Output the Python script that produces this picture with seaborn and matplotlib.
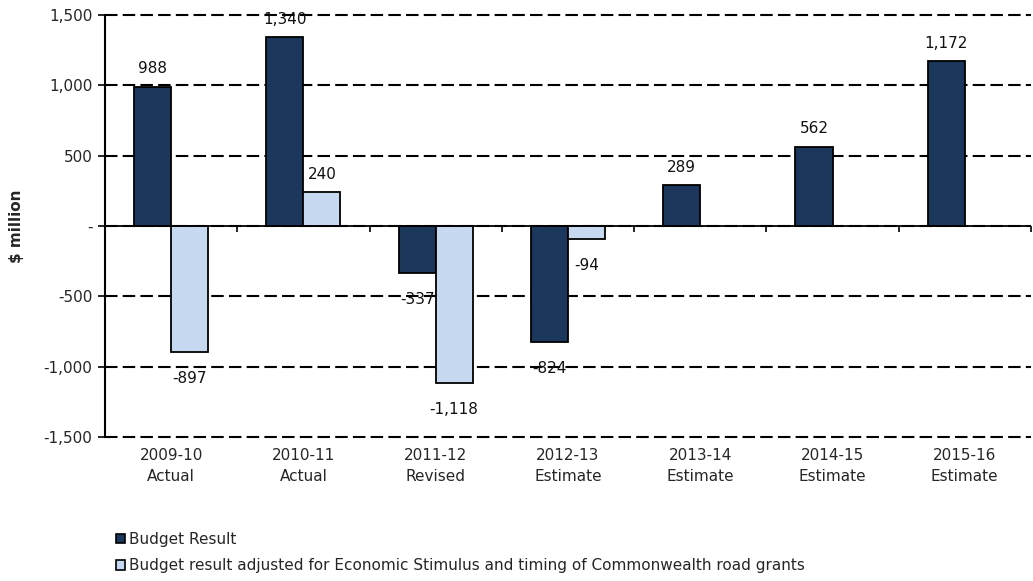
import numpy as np
import pandas as pd
import seaborn as sns
import matplotlib.pyplot as plt
from matplotlib.ticker import FuncFormatter
from matplotlib.transforms import blended_transform_factory

# Data
years = ["2009-10\nActual", "2010-11\nActual", "2011-12\nRevised", "2012-13\nEstimate",
         "2013-14\nEstimate", "2014-15\nEstimate", "2015-16\nEstimate"]
budget_result = [988, 1340, -337, -824, 289, 562, 1172]
adjusted_result = [-897, 240, -1118, -94, np.nan, np.nan, np.nan]
series_names = ["Budget Result",
                "Budget result adjusted for Economic Stimulus and timing of Commonwealth road grants"]
yticks = [-1500, -1000, -500, 0, 500, 1000, 1500]

dark = "#1B375C"
light = "#C6D9F0"

df = pd.DataFrame({
    "year": years * 2,
    "series": [series_names[0]] * len(years) + [series_names[1]] * len(years),
    "value": budget_result + adjusted_result,
})

sns.set_style("white")
plt.rcParams["font.family"] = ["DejaVu Sans"]

fig = plt.figure(figsize=(10.33, 5.81), dpi=100)
ax = fig.add_axes([0.1016, 0.2478, 0.8964, 0.7264])

sns.barplot(data=df, x="year", y="value", hue="series", order=years,
            hue_order=series_names, palette=[dark, light], saturation=1, width=0.56,
            edgecolor="black", linewidth=1.3, errorbar=None, ax=ax, legend=False)

# value labels
for cont in ax.containers:
    for bar in cont:
        h = bar.get_height()
        if np.isnan(h):
            continue
        x = bar.get_x() + bar.get_width() / 2
        off = 13 if h >= 0 else -19
        ax.annotate(f"{h:,.0f}", (x, h), xytext=(0, off), textcoords="offset points",
                    ha="center", va="center", fontsize=11, color="#111111")

ax.set_ylim(-1500, 1500)
ax.set_xlim(-0.5, len(years) - 0.5)
ax.set_yticks(yticks)
ax.yaxis.set_major_formatter(FuncFormatter(lambda v, p: "-" if v == 0 else f"{v:,.0f}"))
ax.tick_params(axis="y", length=5, width=1.2, color="black", labelsize=11, pad=4, left=True)
ax.tick_params(axis="x", length=0, labelsize=11, pad=8)
for lab in ax.get_xticklabels():
    lab.set_linespacing(1.45)

ax.yaxis.grid(True, color="black", linestyle=(0, (6, 2.5)), linewidth=1.5)
ax.set_axisbelow(True)
for gl in ax.get_ygridlines():
    gl.set_clip_on(False)

for s in ["top", "right", "bottom"]:
    ax.spines[s].set_visible(False)
ax.spines["left"].set_color("black")
ax.spines["left"].set_linewidth(1.5)

# zero line with category boundary ticks
ax.axhline(0, color="black", linewidth=1.3, zorder=1.5)
trans = blended_transform_factory(ax.transData, ax.transAxes)
ax.vlines(np.arange(len(years)) + 0.5, 0.5 - 6 / 422, 0.5, transform=trans,
          color="black", linewidth=1.2, clip_on=False)

ax.set_xlabel("")
ax.set_ylabel("$ million", fontsize=11, fontweight="bold", labelpad=14)

handles = [plt.Rectangle((0, 0), 1, 1, facecolor=c, edgecolor="black", linewidth=1.2)
           for c in [dark, light]]
fig.legend(handles, series_names, loc="lower left", bbox_to_anchor=(0.102, -0.005),
           frameon=False, fontsize=11, handlelength=0.6, handleheight=0.6,
           handletextpad=0.25, labelspacing=0.75, borderaxespad=0.3)

fig.savefig("out.png", dpi=100)
